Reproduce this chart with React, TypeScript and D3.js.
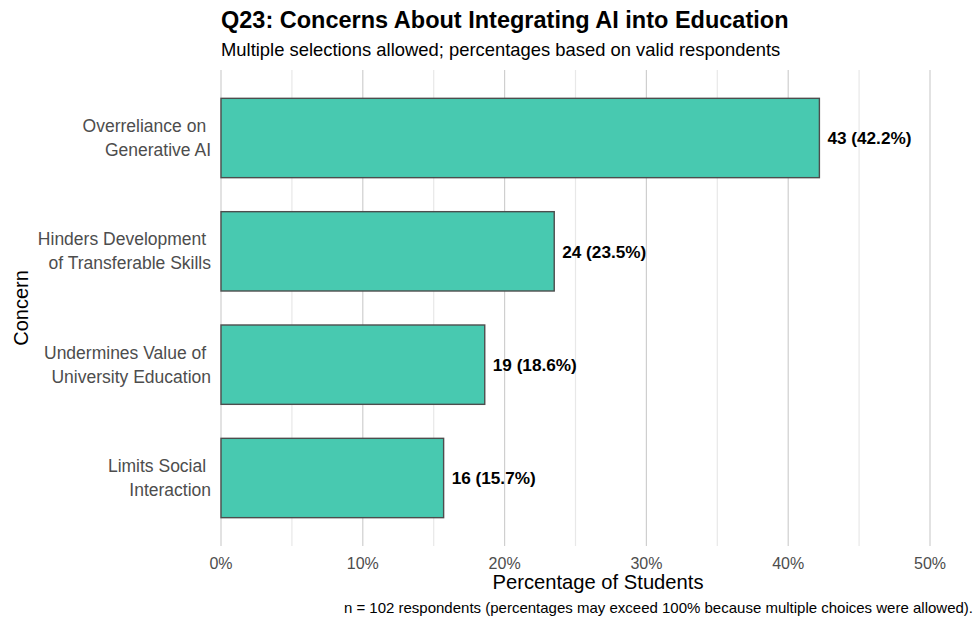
import React from "react";
import * as d3 from "d3";

const concerns = [
  ["Overreliance on ", "Generative AI"],
  ["Hinders Development ", "of Transferable Skills"],
  ["Undermines Value of ", "University Education"],
  ["Limits Social ", "Interaction"],
];
const counts = [43, 24, 19, 16];
const percents = [42.2, 23.5, 18.6, 15.7];
const majorTicks = [0, 10, 20, 30, 40, 50];
const minorTicks = [5, 15, 25, 35, 45];

const W = 976;
const H = 622;
const FONT = "'Liberation Sans', Arial, Helvetica, sans-serif";

export default function App() {
  const panelTop = 70;
  const panelBottom = 546;
  const x = d3.scaleLinear().domain([0, 50]).range([221, 930]);
  // ggplot-like discrete expansion: centers at 0.6 units from the edges
  const step = (panelBottom - panelTop) / (concerns.length - 1 + 1.2);
  const yc = d3
    .scaleLinear()
    .domain([0, concerns.length - 1])
    .range([panelTop + 0.6 * step, panelBottom - 0.6 * step]);
  const bh = 0.7 * step;

  return (
    <svg
      width={W}
      height={H}
      style={{ position: "absolute", left: 0, top: 0, background: "#fff" }}
      fontFamily={FONT}
    >
      {minorTicks.map((t) => (
        <line
          key={"mi" + t}
          x1={x(t)}
          x2={x(t)}
          y1={panelTop}
          y2={panelBottom}
          stroke="#e8e8e8"
          strokeWidth={1.2}
        />
      ))}
      {majorTicks.map((t) => (
        <line
          key={"ma" + t}
          x1={x(t)}
          x2={x(t)}
          y1={panelTop}
          y2={panelBottom}
          stroke="#cfcfcf"
          strokeWidth={1.2}
        />
      ))}
      {percents.map((p, i) => (
        <g key={i}>
          <rect
            x={x(0)}
            y={yc(i) - bh / 2}
            width={x(p) - x(0)}
            height={bh}
            fill="#48C9B0"
            stroke="#4d4d4d"
            strokeWidth={1.4}
          />
          <text
            x={x(p) + 8}
            y={yc(i)}
            dy="0.36em"
            fontSize={17.2}
            fontWeight="bold"
            fill="#000"
          >
            {`${counts[i]} (${p.toFixed(1)}%)`}
          </text>
          <text
            x={211}
            y={yc(i)}
            textAnchor="end"
            fontSize={17.5}
            fill="#4d4d4d"
            style={{ whiteSpace: "pre" }}
          >
            <tspan x={211} y={yc(i) - 6}>{concerns[i][0]}</tspan>
            <tspan x={211} y={yc(i) + 18}>{concerns[i][1]}</tspan>
          </text>
        </g>
      ))}
      {majorTicks.map((t) => (
        <text
          key={"tl" + t}
          x={x(t)}
          y={569}
          textAnchor="middle"
          fontSize={16}
          fill="#4d4d4d"
        >
          {t + "%"}
        </text>
      ))}
      <text x={598} y={589} textAnchor="middle" fontSize={20.2} fill="#000">
        Percentage of Students
      </text>
      <text
        transform={`translate(21,${(panelTop + panelBottom) / 2}) rotate(-90)`}
        textAnchor="middle"
        fontSize={20}
        fill="#000"
        dy="0.35em"
      >
        Concern
      </text>
      <text x={221} y={28} fontSize={23.5} fontWeight="bold" fill="#000">
        Q23: Concerns About Integrating AI into Education
      </text>
      <text x={221} y={56} fontSize={18.4} fill="#000">
        Multiple selections allowed; percentages based on valid respondents
      </text>
      <text x={973} y={613} textAnchor="end" fontSize={15} fill="#000">
        n = 102 respondents (percentages may exceed 100% because multiple choices were allowed).
      </text>
    </svg>
  );
}
